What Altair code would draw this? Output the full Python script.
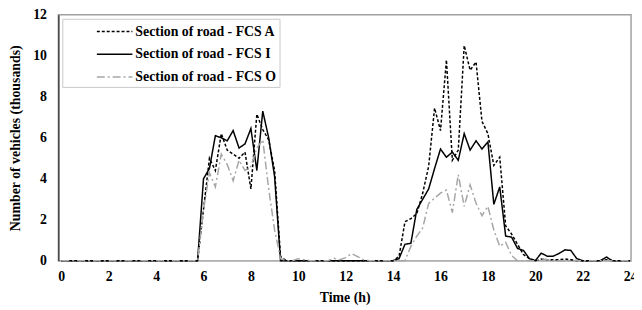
import altair as alt
import pandas as pd

# 15-minute steps from 0 h to 24 h (97 samples)
fcs_a = [0]*24 + [
    2.5, 5.0, 4.4, 6.2, 5.4, 5.2, 5.0, 5.3, 3.5, 7.15, 6.4, 5.9, 4.4, 0.2,  # 6.00-9.25
    0, 0, 0, 0, 0, 0, 0, 0, 0, 0, 0, 0, 0, 0, 0, 0, 0, 0, 0,                 # 9.50-14.00
    0.2, 1.9, 2.05, 2.3, 3.3, 4.6, 7.45, 6.35, 9.8, 4.9, 5.4, 10.5, 9.3,     # 14.25-17.25
    9.7, 6.8, 6.2, 4.65, 5.05, 1.7, 1.3, 0.8, 0.3, 0.1,                      # 17.50-19.75
    0, 0.08, 0.05, 0.05, 0.05, 0.08, 0.05, 0, 0, 0, 0, 0, 0.05, 0, 0, 0, 0,  # 20.00-24.00
]
fcs_i = [0]*24 + [
    4.0, 4.5, 6.1, 6.0, 5.85, 6.35, 5.5, 5.7, 6.45, 4.4, 7.3, 6.0, 4.1, 0,
    0, 0, 0, 0, 0, 0, 0, 0, 0, 0, 0, 0, 0, 0, 0, 0, 0, 0, 0,
    0.1, 0.8, 0.85, 2.5, 3.0, 3.5, 4.5, 5.45, 5.05, 5.3, 4.9, 6.2, 5.4,
    5.85, 5.45, 5.8, 2.75, 3.6, 1.2, 1.15, 0.6, 0.5, 0.1,
    0, 0.37, 0.22, 0.22, 0.35, 0.53, 0.5, 0.1, 0, 0, 0, 0, 0.18, 0, 0, 0, 0,
]
fcs_o = [0]*24 + [
    2.5, 4.3, 3.6, 5.2, 4.7, 3.9, 4.9, 4.4, 4.6, 5.5, 5.9, 3.5, 1.5, 0.1,
    0, 0, 0.1, 0.05, 0, 0, 0, 0, 0.12, 0.05, 0.15, 0.35, 0.2, 0.05, 0, 0, 0, 0, 0,
    0, 0, 0.7, 1.2, 1.6, 2.8, 3.05, 3.3, 3.45, 2.35, 4.2, 2.65, 3.7,
    2.8, 2.2, 2.65, 1.5, 0.7, 0.9, 0.25, 0, 0, 0,
    0, 0.1, 0.05, 0, 0, 0, 0, 0, 0, 0, 0, 0, 0, 0, 0, 0, 0,
]
names = ["Section of road - FCS A", "Section of road - FCS I", "Section of road - FCS O"]
x_ticks = [0, 2, 4, 6, 8, 10, 12, 14, 16, 18, 20, 22, 24]
y_ticks = [0, 2, 4, 6, 8, 10, 12]

hours = [i * 0.25 for i in range(97)]
rows = []
for name, vals in zip(names, [fcs_a, fcs_i, fcs_o]):
    for h, v in zip(hours, vals):
        rows.append({"series": name, "hour": h, "value": v})
df = pd.DataFrame(rows)

FONT = "Liberation Serif"

legend = alt.Legend(
    title=None, orient="none", legendX=4, legendY=4,
    symbolType="M -2 0 L 2 0", symbolSize=324, symbolStrokeWidth=1.5,
    labelFont=FONT, labelFontWeight="bold", labelFontSize=14, labelColor="black",
    strokeColor="#c8c8c8", fillColor="white", padding=3,
    symbolOffset=40, labelOffset=11, rowPadding=6,
    labelExpr="datum.label + '\u00a0\u00a0\u00a0\u00a0\u00a0\u00a0\u00a0\u00a0\u00a0\u00a0\u00a0'",
)

chart = alt.Chart(df).mark_line(strokeWidth=1.5).encode(
    x=alt.X("hour:Q", scale=alt.Scale(domain=[-0.125, 24.04], nice=False, zero=False),
            axis=alt.Axis(values=x_ticks, format="d", title="Time (h)", ticks=False,
                          grid=False, domainColor="#c0c0c0", domainWidth=1.5,
                          labelPadding=9, titlePadding=7, labelFlush=False)),
    y=alt.Y("value:Q", scale=alt.Scale(domain=[0, 12], nice=False),
            axis=alt.Axis(values=y_ticks, title="Number of vehicles (thousands)", ticks=False,
                          grid=False, domainColor="#404040", domainWidth=1.5,
                          labelPadding=12, titlePadding=10)),
    color=alt.Color("series:N", scale=alt.Scale(domain=names, range=["black", "black", "#a6a6a6"]),
                    legend=legend),
    strokeDash=alt.StrokeDash("series:N",
                              scale=alt.Scale(domain=names, range=[[3, 2], [1, 0], [8, 3, 2, 3]]),
                              legend=legend),
    order=alt.Order("hour:Q"),
).properties(
    width=580, height=249,
    autosize=alt.AutoSizeParams(type="none"),
    padding={"left": 51, "top": 5, "right": 3, "bottom": 46},
).configure_axis(
    labelFont=FONT, labelFontWeight="bold", labelFontSize=14, labelColor="black",
    titleFont=FONT, titleFontWeight="bold", titleFontSize=14, titleColor="black",
).configure_view(stroke="#a0a0a0", strokeWidth=1.5)

chart.save("out.html", embed_options={"renderer": "svg", "actions": False})
